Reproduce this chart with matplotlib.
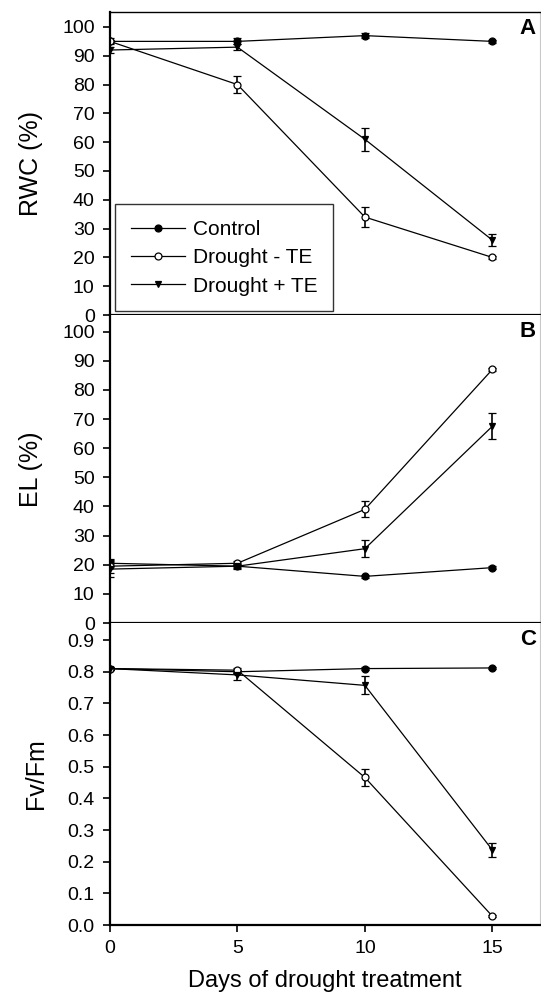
#!/usr/bin/env python3
"""Three stacked panels: RWC, EL and Fv/Fm over days of drought treatment."""
import matplotlib
matplotlib.use("Agg")
import matplotlib.pyplot as plt
from matplotlib.lines import Line2D

plt.rcParams["font.family"] = ["Liberation Sans", "DejaVu Sans"]

days = [0, 5, 10, 15]
series_names = ["Control", "Drought - TE", "Drought + TE"]

# Panel A: relative water content (%)
rwc_control = [95, 95, 97, 95]
rwc_control_err = [0.5, 1.0, 0.8, 0.5]
rwc_minus = [95, 80, 34, 20]
rwc_minus_err = [1.0, 3.0, 3.5, 0.5]
rwc_plus = [92, 93, 61, 26]
rwc_plus_err = [1.0, 1.0, 4.0, 2.0]

# Panel B: electrolyte leakage (%)
el_control = [20.5, 19.5, 16, 19]
el_control_err = [1.0, 0.5, 0.5, 0.5]
el_minus = [19.5, 20.5, 39, 87]
el_minus_err = [2.5, 0.8, 2.7, 0.5]
el_plus = [18.5, 19.5, 25.5, 67.5]
el_plus_err = [2.8, 0.8, 3.0, 4.5]

# Panel C: Fv/Fm
fv_control = [0.81, 0.80, 0.81, 0.812]
fv_control_err = [0.005, 0.005, 0.005, 0.003]
fv_minus = [0.81, 0.805, 0.466, 0.028]
fv_minus_err = [0.005, 0.008, 0.026, 0.004]
fv_plus = [0.81, 0.79, 0.757, 0.237]
fv_plus_err = [0.005, 0.015, 0.028, 0.023]

panels = [
    ("RWC (%)", "A", (0, 105.2), range(0, 101, 10), "{:.0f}",
     [(rwc_control, rwc_control_err), (rwc_minus, rwc_minus_err), (rwc_plus, rwc_plus_err)]),
    ("EL (%)", "B", (0, 105.7), range(0, 101, 10), "{:.0f}",
     [(el_control, el_control_err), (el_minus, el_minus_err), (el_plus, el_plus_err)]),
    ("Fv/Fm", "C", (0, 0.954), [i / 10 for i in range(10)], "{:.1f}",
     [(fv_control, fv_control_err), (fv_minus, fv_minus_err), (fv_plus, fv_plus_err)]),
]

styles = [
    dict(marker="o", markerfacecolor="black", markeredgecolor="black"),
    dict(marker="o", markerfacecolor="white", markeredgecolor="black"),
    dict(marker="v", markerfacecolor="black", markeredgecolor="black"),
]

W, H = 541, 992
fig = plt.figure(figsize=(W / 100, H / 100), dpi=100)

left = 110 / W
width = (540 - 110) / W
edges = [(12, 315), (315, 623), (623, 925)]

axes = []
for (top_px, bot_px), (ylabel, letter, ylim, yticks, fmt, data) in zip(edges, panels):
    ax = fig.add_axes([left, 1 - bot_px / H, width, (bot_px - top_px) / H])
    axes.append(ax)
    for (vals, errs), name, st in zip(data, series_names, styles):
        ax.errorbar(days, vals, yerr=errs, color="black", linewidth=0.9,
                    markersize=5, markeredgewidth=0.9, capsize=3,
                    elinewidth=1.2, capthick=1.2, label=name, **st)
    ax.set_xlim(0, 16.87)
    ax.set_ylim(*ylim)
    ax.set_yticks(list(yticks))
    ax.set_yticklabels([fmt.format(t) for t in yticks])
    ax.set_ylabel(ylabel, fontsize=18, labelpad=14)
    ax.tick_params(axis="y", direction="out", length=5, width=1.2, labelsize=14, pad=6)
    for side in ("left", "bottom"):
        ax.spines[side].set_linewidth(1.6)
    ax.spines["top"].set_linewidth(1.0)
    ax.spines["right"].set_color("#c8c8c8")
    ax.spines["right"].set_linewidth(0.8)
    ax.text(0.972, 0.945, letter, transform=ax.transAxes, fontsize=16,
            fontweight="bold", ha="center", va="center")

ax_a, ax_b, ax_c = axes
for ax in (ax_a, ax_b):
    ax.set_xticks([])
ax_b.spines["top"].set_visible(False)
ax_c.spines["top"].set_visible(False)

ax_c.set_xticks(days)
ax_c.tick_params(axis="x", direction="out", length=5, width=1.2, labelsize=14, pad=6)
ax_c.set_xlabel("Days of drought treatment", fontsize=17, labelpad=9)

leg_handles = [Line2D([], [], color="black", linewidth=0.9, markersize=5,
                      markeredgewidth=0.9, **st) for st in styles]
leg = ax_a.legend(leg_handles, series_names, loc="lower left",
                  bbox_to_anchor=(5 / 430, 0.012), fontsize=15, frameon=True,
                  fancybox=False, edgecolor="black", handlelength=2.6,
                  borderpad=0.75, labelspacing=0.45, handletextpad=0.4,
                  borderaxespad=0.0)
leg.get_frame().set_linewidth(1.0)

fig.savefig("out.png", dpi=100)
